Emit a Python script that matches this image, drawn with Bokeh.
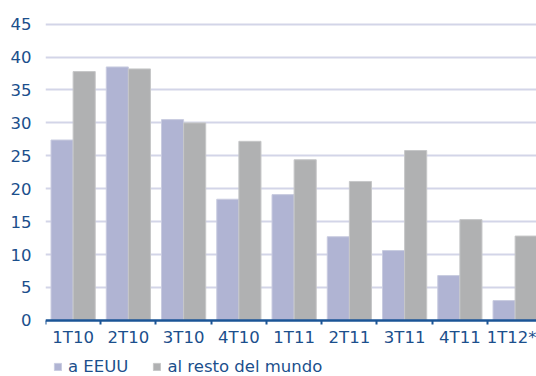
from bokeh.plotting import figure
from bokeh.models import (ColumnDataSource, Range1d, FixedTicker, Legend,
                          LegendItem)
from bokeh.embed import file_html
from bokeh.resources import INLINE

# Quarterly shares (%) by destination
quarters = ["1T10", "2T10", "3T10", "4T10", "1T11", "2T11", "3T11", "4T11", "1T12*"]
a_eeuu = [27.4, 38.5, 30.5, 18.4, 19.1, 12.7, 10.6, 6.8, 3.0]
resto_mundo = [37.8, 38.2, 30.0, 27.2, 24.4, 21.1, 25.8, 15.3, 12.8]
y_ticks = [0, 5, 10, 15, 20, 25, 30, 35, 40, 45]

FONT = "DejaVu Sans"
FONT_SIZE = "16.5px"
TEXT_BLUE = "#1b4f8c"
AXIS_BLUE = "#1b5596"
BAR_BLUE = "#b0b4d3"
BAR_GRAY = "#b0b1b2"
GRID = "#d3d5e8"

centers = [i + 0.5 for i in range(len(quarters))]
src = ColumnDataSource(dict(
    x_us=[c - 0.2 for c in centers],
    x_rw=[c + 0.2 for c in centers],
    us=a_eeuu,
    rw=resto_mundo,
))

# the frame runs the full height; the area under zero holds the
# category labels and the legend
p = figure(width=536, height=376, output_backend="svg",
           toolbar_location=None,
           x_range=Range1d(0, 8.887), y_range=Range1d(-8.54, 48.6),
           min_border_left=45, min_border_right=0, min_border_top=0,
           min_border_bottom=0)
p.outline_line_color = None
p.background_fill_color = "white"
p.border_fill_color = "white"

r_us = p.vbar(x="x_us", top="us", bottom=0, width=0.4, source=src,
              fill_color=BAR_BLUE, line_color="#c9cce0", line_width=1)
r_rw = p.vbar(x="x_rw", top="rw", bottom=0, width=0.4, source=src,
              fill_color=BAR_GRAY, line_color="#c6c7c8", line_width=1)

# x axis pinned at zero: labels at category centres, ticks between categories
p.xaxis.fixed_location = 0
p.xaxis.ticker = FixedTicker(ticks=centers,
                             minor_ticks=list(range(len(quarters) + 1)))
p.xaxis.major_label_overrides = {c: q for c, q in zip(centers, quarters)}
p.xaxis.major_tick_out = 0
p.xaxis.major_tick_in = 0
p.xaxis.minor_tick_out = 4
p.xaxis.minor_tick_in = 0
p.xaxis.minor_tick_line_color = AXIS_BLUE
p.xaxis.minor_tick_line_width = 2
p.xaxis.axis_line_color = AXIS_BLUE
p.xaxis.axis_line_width = 2.5
p.xaxis.major_label_standoff = 4
p.xaxis.major_label_text_font = FONT
p.xaxis.major_label_text_font_size = FONT_SIZE
p.xaxis.major_label_text_color = TEXT_BLUE
p.xgrid.grid_line_color = None

# y axis: labels only, horizontal grid lines every 5
p.yaxis.ticker = FixedTicker(ticks=y_ticks)
p.yaxis.axis_line_color = None
p.yaxis.major_tick_line_color = None
p.yaxis.minor_tick_line_color = None
p.yaxis.major_label_standoff = 8
p.yaxis.major_label_text_font = FONT
p.yaxis.major_label_text_font_size = FONT_SIZE
p.yaxis.major_label_text_color = TEXT_BLUE
p.ygrid.ticker = FixedTicker(ticks=y_ticks[1:])
p.ygrid.grid_line_color = GRID
p.ygrid.grid_line_width = 2

legend = Legend(items=[LegendItem(label="a EEUU", renderers=[r_us]),
                       LegendItem(label="al resto del mundo", renderers=[r_rw])],
                orientation="horizontal", location=(8, 0),
                glyph_width=9, glyph_height=9, label_standoff=6, spacing=24,
                padding=0, margin=0, label_height=14,
                label_text_font=FONT, label_text_font_size=FONT_SIZE,
                label_text_color=TEXT_BLUE,
                border_line_color=None, background_fill_alpha=0)
p.add_layout(legend, "center")

open("out.html", "w").write(file_html(p, INLINE))
